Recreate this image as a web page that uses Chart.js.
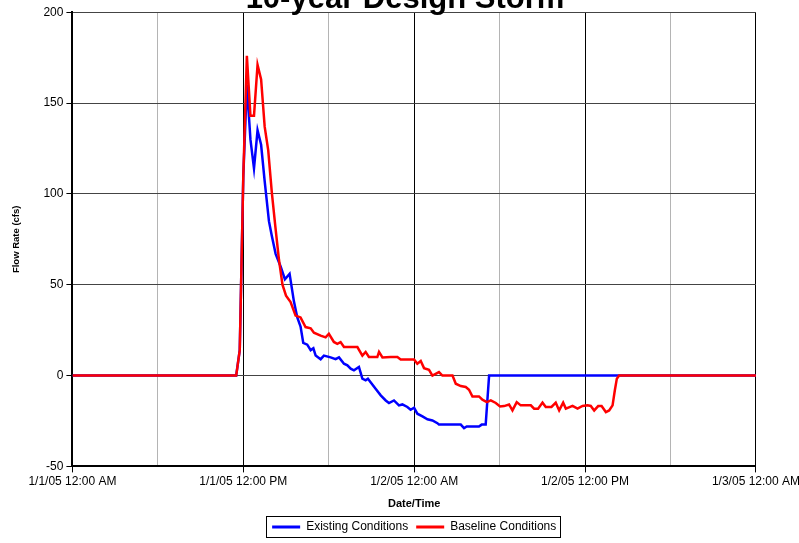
<!DOCTYPE html>
<html>
<head>
<meta charset="utf-8">
<title>10-year Design Storm</title>
<script src="https://cdn.jsdelivr.net/npm/chart.js@4.4.1/dist/chart.umd.min.js"></script>
<style>
  html, body { margin: 0; padding: 0; background: #fff; }
</style>
</head>
<body>
<canvas id="stormChart" width="799" height="543"></canvas>
<script>
// hours after 1/1/05 12:00 AM, flow in cfs
const existingHours = [0, 11.5, 11.75, 12, 12.25, 12.5, 12.75, 13, 13.25, 13.5, 13.8, 14, 14.27, 14.62, 14.92, 15.25, 15.55,
  15.79, 16.02, 16.21, 16.49, 16.73, 16.92, 17.08, 17.43, 17.66, 18.13, 18.48, 18.72, 19.07, 19.31, 19.54, 19.77, 20.12,
  20.36, 20.59, 20.75, 21.29, 21.65, 22, 22.23, 22.58, 22.93, 23.17, 23.52, 23.75, 23.99, 24.22, 24.58, 24.93, 25.28,
  25.63, 25.74, 27.27, 27.5, 27.69, 28.55, 28.74, 29.02, 29.26, 48];
const existingFlow = [0, 0, 14, 110, 160, 130, 114, 135, 127, 107, 85, 77, 67, 60, 53, 56, 41,
  32, 27, 18, 17, 14, 15, 11, 9, 11, 10, 9, 10, 6.5, 5.6, 3.8, 2.9, 4.7,
  -1.7, -2.6, -1.7, -7.2, -10.9, -13.7, -15.1, -13.7, -16.4, -15.9, -17.3, -18.8, -17.7, -21, -22.5, -24.1, -24.7,
  -26.2, -27, -27, -28.9, -28, -28, -27, -27, 0, 0];

const baselineHours = [0, 11.5, 11.75, 12, 12.25, 12.5, 12.75, 13, 13.25, 13.5, 13.75, 14, 14.25, 14.5, 14.75, 15, 15.32,
  15.67, 16.02, 16.37, 16.73, 16.96, 17.43, 17.78, 18.01, 18.36, 18.6, 18.83, 19.07, 20.01, 20.36, 20.59, 20.82, 21.41,
  21.53, 21.77, 22.35, 22.82, 23.05, 23.99, 24.22, 24.46, 24.69, 25.04, 25.28, 25.74, 25.98, 26.69, 26.92, 27.27, 27.62,
  27.85, 28.09, 28.55, 28.79, 29.1, 29.38, 29.73, 30.03, 30.31, 30.66, 30.9, 31.2, 31.48, 32.19, 32.42, 32.7, 33.01,
  33.24, 33.64, 33.94, 34.18, 34.46, 34.65, 35.12, 35.47, 35.82, 36.17, 36.4, 36.64, 36.92, 37.16, 37.46, 37.69, 37.93,
  38.09, 38.23, 38.39, 48];
const baselineFlow = [0, 0, 14, 110, 176, 143, 143, 171, 163, 137, 124, 101, 82, 64, 50, 44, 40.5,
  33, 32, 26.7, 26, 23.6, 22, 21, 23, 18.5, 17.5, 18.4, 15.7, 15.7, 11, 13, 10.2, 10.2,
  13, 10, 10.2, 10.2, 8.9, 8.9, 6.5, 8, 4.1, 3.2, 0, 1.9, 0, 0, -4.5, -5.8, -6.3,
  -7.8, -11.5, -11.5, -13.3, -14.6, -13.7, -15.1, -17, -16.8, -15.9, -19.2, -14.6, -16.4, -16.4, -18.2, -18.2, -14.9,
  -17.3, -17.3, -14.9, -19.2, -14.9, -18.2, -16.7, -18.2, -16.7, -16.4, -16.7, -19.2, -16.8, -16.8, -20.1, -19.2, -16.4,
  -8.1, -1.7, 0, 0];

const xTickLabels = ['1/1/05 12:00 AM', '1/1/05 12:00 PM', '1/2/05 12:00 AM', '1/2/05 12:00 PM', '1/3/05 12:00 AM'];

const fontFamily = '"Liberation Sans", Arial, sans-serif';

function toPoints(hours, flow) {
    return hours.map((h, i) => ({ x: h, y: flow[i] }));
}

// box drawn round the legend items
const legendFrame = {
    id: 'legendFrame',
    afterDraw(chart) {
        const boxes = chart.legend && chart.legend.legendHitBoxes;
        if (!boxes || !boxes.length) return;
        let left = Infinity, right = -Infinity, top = Infinity, bottom = -Infinity;
        boxes.forEach(b => {
            left = Math.min(left, b.left);
            right = Math.max(right, b.left + b.width);
            top = Math.min(top, b.top);
            bottom = Math.max(bottom, b.top + b.height);
        });
        const ctx = chart.ctx;
        ctx.save();
        ctx.strokeStyle = '#000';
        ctx.lineWidth = 1;
        ctx.strokeRect(Math.round(left - 6) + 0.5, Math.round(top - 5) + 0.5,
            Math.round(right - left + 10), Math.round(bottom - top + 9));
        ctx.restore();
    }
};

const ctx = document.getElementById('stormChart').getContext('2d');
const chart = new Chart(ctx, {
    type: 'line',
    data: {
        datasets: [{
            label: 'Existing Conditions',
            data: toPoints(existingHours, existingFlow),
            borderColor: '#0000ff',
            backgroundColor: '#0000ff',
            borderWidth: 2.5,
            pointRadius: 0,
            tension: 0,
            order: 1
        }, {
            label: 'Baseline Conditions',
            data: toPoints(baselineHours, baselineFlow),
            borderColor: '#ff0000',
            backgroundColor: '#ff0000',
            borderWidth: 2.5,
            pointRadius: 0,
            tension: 0,
            order: 0 // red on top
        }]
    },
    options: {
        animation: false,
        responsive: false,
        layout: { padding: { left: 11, right: 0, top: 0, bottom: 0 } },
        scales: {
            x: {
                type: 'linear',
                min: 0,
                max: 48,
                // let the last date label run to the canvas edge, like the original
                afterFit: scale => { scale.paddingRight -= 3; },
                ticks: {
                    stepSize: 6,
                    autoSkip: false,
                    maxRotation: 0,
                    color: '#000',
                    padding: 2,
                    font: { family: fontFamily, size: 12 },
                    callback: v => (v % 12 === 0 ? xTickLabels[v / 12] : '')
                },
                grid: {
                    color: c => (c.tick && c.tick.value % 12 === 0 ? '#000' : '#b4b4b4'),
                    tickColor: c => (c.tick && c.tick.value % 12 === 0 ? '#000' : 'rgba(0,0,0,0)'),
                    tickLength: 6
                },
                border: { color: '#000', width: 2 },
                title: {
                    display: true,
                    text: 'Date/Time',
                    color: '#000',
                    font: { family: fontFamily, size: 11, weight: 'bold' },
                    padding: { top: 7, bottom: 2 }
                }
            },
            y: {
                min: -50,
                max: 200,
                ticks: {
                    stepSize: 50,
                    color: '#000',
                    padding: 3,
                    font: { family: fontFamily, size: 12 }
                },
                grid: { color: '#444', tickColor: '#000', tickLength: 6 },
                border: { color: '#000', width: 2 },
                title: {
                    display: true,
                    text: 'Flow Rate (cfs)',
                    color: '#000',
                    font: { family: fontFamily, size: 9.5, weight: 'bold' },
                    padding: { top: 0, bottom: 18 }
                }
            }
        },
        plugins: {
            title: {
                display: true,
                text: '10-year Design Storm',
                color: '#000',
                font: { family: fontFamily, size: 31, weight: 'bold' },
                padding: { top: -19, bottom: -6 }
            },
            legend: {
                position: 'bottom',
                fullSize: false,
                labels: {
                    boxWidth: 28,
                    boxHeight: 3,
                    padding: 8,
                    color: '#000',
                    font: { family: fontFamily, size: 12 },
                    generateLabels: c => Chart.defaults.plugins.legend.labels.generateLabels(c)
                        .map(l => Object.assign(l, { lineWidth: 0 })),
                    sort: (a, b) => a.datasetIndex - b.datasetIndex
                }
            },
            tooltip: { enabled: false }
        }
    },
    plugins: [legendFrame]
});
</script>
</body>
</html>
